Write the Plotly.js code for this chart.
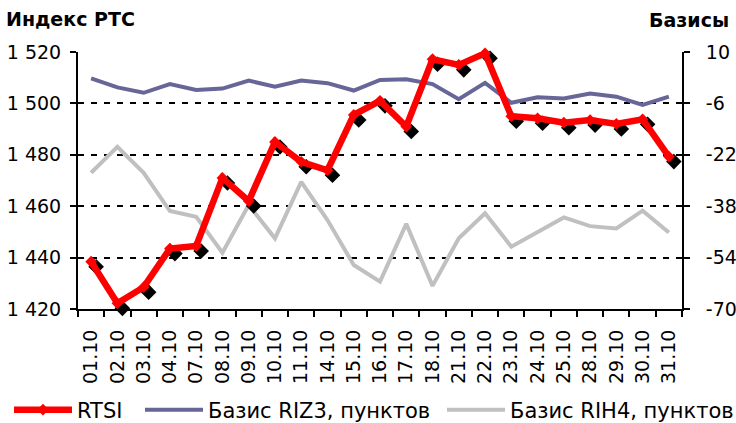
<!DOCTYPE html>
<html>
<head>
<meta charset="utf-8">
<script src="https://cdn.plot.ly/plotly-3.0.1.min.js"></script>
<style>html,body{margin:0;padding:0;background:#fff;}#chart{width:736px;height:423px;}</style>
</head>
<body>
<div id="chart"></div>
<script>
const dates = ['01.10','02.10','03.10','04.10','07.10','08.10','09.10','10.10','11.10','14.10','15.10','16.10','17.10','18.10','21.10','22.10','23.10','24.10','25.10','28.10','29.10','30.10','31.10'];
const rtsi = [1438.4, 1422.2, 1428.5, 1443.5, 1444.5, 1471.0, 1462.0, 1485.0, 1477.3, 1474.0, 1495.5, 1501.0, 1491.0, 1517.2, 1515.0, 1519.5, 1495.0, 1494.2, 1492.5, 1493.5, 1492.0, 1493.8, 1479.3];
const riz3 = [1.8, -1.0, -2.7, 0.0, -1.8, -1.4, 1.1, -0.8, 1.1, 0.3, -2.0, 1.3, 1.5, 0.0, -4.7, 0.4, -5.8, -4.1, -4.5, -2.9, -3.9, -6.5, -3.9];
const rih4 = [-27.6, -19.5, -27.6, -39.5, -41.3, -52.5, -37.6, -48.0, -30.4, -42.3, -56.3, -61.5, -43.5, -62.8, -48.0, -40.2, -50.6, -46.2, -41.5, -44.2, -44.9, -39.4, -46.2];
const leftTickVals = [1420, 1440, 1460, 1480, 1500, 1520];
const leftTickText = ['1 420', '1 440', '1 460', '1 480', '1 500', '1 520'];
const rightTickVals = [-70, -54, -38, -22, -6, 10];
const rightTickText = ['-70', '-54', '-38', '-22', '-6', '10'];
const seriesNames = ['RTSI', 'Базис RIZ3, пунктов', 'Базис RIH4, пунктов'];
const leftTitle = 'Индекс РТС';
const rightTitle = 'Базисы';

const W = 736, H = 423;
const L = 78, T = 52, PW = 604, PH = 257, SH = 5;
const totW = PW + SH, totH = PH + SH;
const FONT = 'DejaVu Sans, Verdana, sans-serif';

const traces = [
  {x: [], y: [], xaxis: 'x', yaxis: 'y', type: 'scatter', mode: 'lines', showlegend: false, hoverinfo: 'skip'},
  {x: dates, y: rih4, name: seriesNames[2], type: 'scatter', mode: 'lines', xaxis: 'x', yaxis: 'y2',
   line: {color: '#c0c0c0', width: 4}, legend: 'legend3'},
  {x: dates, y: riz3, name: seriesNames[1], type: 'scatter', mode: 'lines', xaxis: 'x', yaxis: 'y2',
   line: {color: '#666699', width: 4}, legend: 'legend2'},
  {x: dates, y: rtsi, name: 'shadow', type: 'scatter', mode: 'markers', xaxis: 'x2', yaxis: 'y3',
   marker: {symbol: 'diamond', size: 12, color: '#000'}, showlegend: false, cliponaxis: false},
  {x: dates, y: rtsi, name: seriesNames[0], type: 'scatter', mode: 'lines+markers', xaxis: 'x3', yaxis: 'y4',
   line: {color: '#ff0000', width: 6.5}, marker: {symbol: 'diamond', size: 9, color: '#ff0000'},
   cliponaxis: false, legend: 'legend'}
];

const axisBase = {showline: true, linecolor: '#000', linewidth: 2, ticks: 'outside', ticklen: 6,
  tickwidth: 2, tickcolor: '#000', tickfont: {family: FONT, size: 19, color: '#000'}, zeroline: false, fixedrange: true};

function leg(px) {
  return {orientation: 'h', xref: 'container', yref: 'container', x: px / W, xanchor: 'left',
    y: (H - 410) / H, yanchor: 'middle', font: {family: FONT, size: 21, color: '#000'},
    bgcolor: 'rgba(0,0,0,0)', borderwidth: 0, itemwidth: 58};
}

const layout = {
  width: W, height: H,
  margin: {l: L, r: W - L - totW, t: T, b: H - T - totH, pad: 0},
  paper_bgcolor: '#fff', plot_bgcolor: 'rgba(0,0,0,0)',
  font: {family: FONT, color: '#000'},
  showlegend: true,
  legend: leg(9), legend2: leg(140), legend3: leg(442),
  xaxis: Object.assign({}, axisBase, {type: 'category', domain: [0, PW / totW], anchor: 'y', range: [-0.5, dates.length - 0.5],
    tickson: 'boundaries', tickangle: -90, showgrid: false, ticklabelstandoff: 11}),
  yaxis: Object.assign({}, axisBase, {domain: [SH / totH, 1], anchor: 'x', range: [1420, 1520],
    tickmode: 'array', tickvals: leftTickVals, ticktext: leftTickText, showgrid: true, gridcolor: '#000', gridwidth: 2,
    griddash: '6px,7px', ticklabelstandoff: 5}),
  yaxis2: Object.assign({}, axisBase, {overlaying: 'y', side: 'right', anchor: 'x', range: [-70, 10],
    tickmode: 'array', tickvals: rightTickVals, ticktext: rightTickText, showgrid: false, ticklabelstandoff: 12}),
  xaxis2: {type: 'category', domain: [SH / totW, 1], anchor: 'y3', range: [-0.5, dates.length - 0.5], visible: false, fixedrange: true},
  yaxis3: {domain: [0, PH / totH], anchor: 'x2', range: [1420, 1520], visible: false, fixedrange: true},
  xaxis3: {type: 'category', domain: [0, PW / totW], anchor: 'y4', range: [-0.5, dates.length - 0.5], visible: false, fixedrange: true},
  yaxis4: {domain: [SH / totH, 1], anchor: 'x3', range: [1420, 1520], visible: false, fixedrange: true},
  annotations: [
    {text: '<b>' + leftTitle + '</b>', xref: 'paper', yref: 'paper', x: (4 - L) / totW, xanchor: 'left',
     y: 1 + (T - 19) / totH, yanchor: 'middle', showarrow: false, font: {family: FONT, size: 19, color: '#000'}},
    {text: '<b>' + rightTitle + '</b>', xref: 'paper', yref: 'paper', x: (731 - L) / totW, xanchor: 'right',
     y: 1 + (T - 20) / totH, yanchor: 'middle', showarrow: false, font: {family: FONT, size: 19, color: '#000'}}
  ]
};

Plotly.newPlot('chart', traces, layout, {displayModeBar: false, staticPlot: true});
</script>
</body>
</html>
